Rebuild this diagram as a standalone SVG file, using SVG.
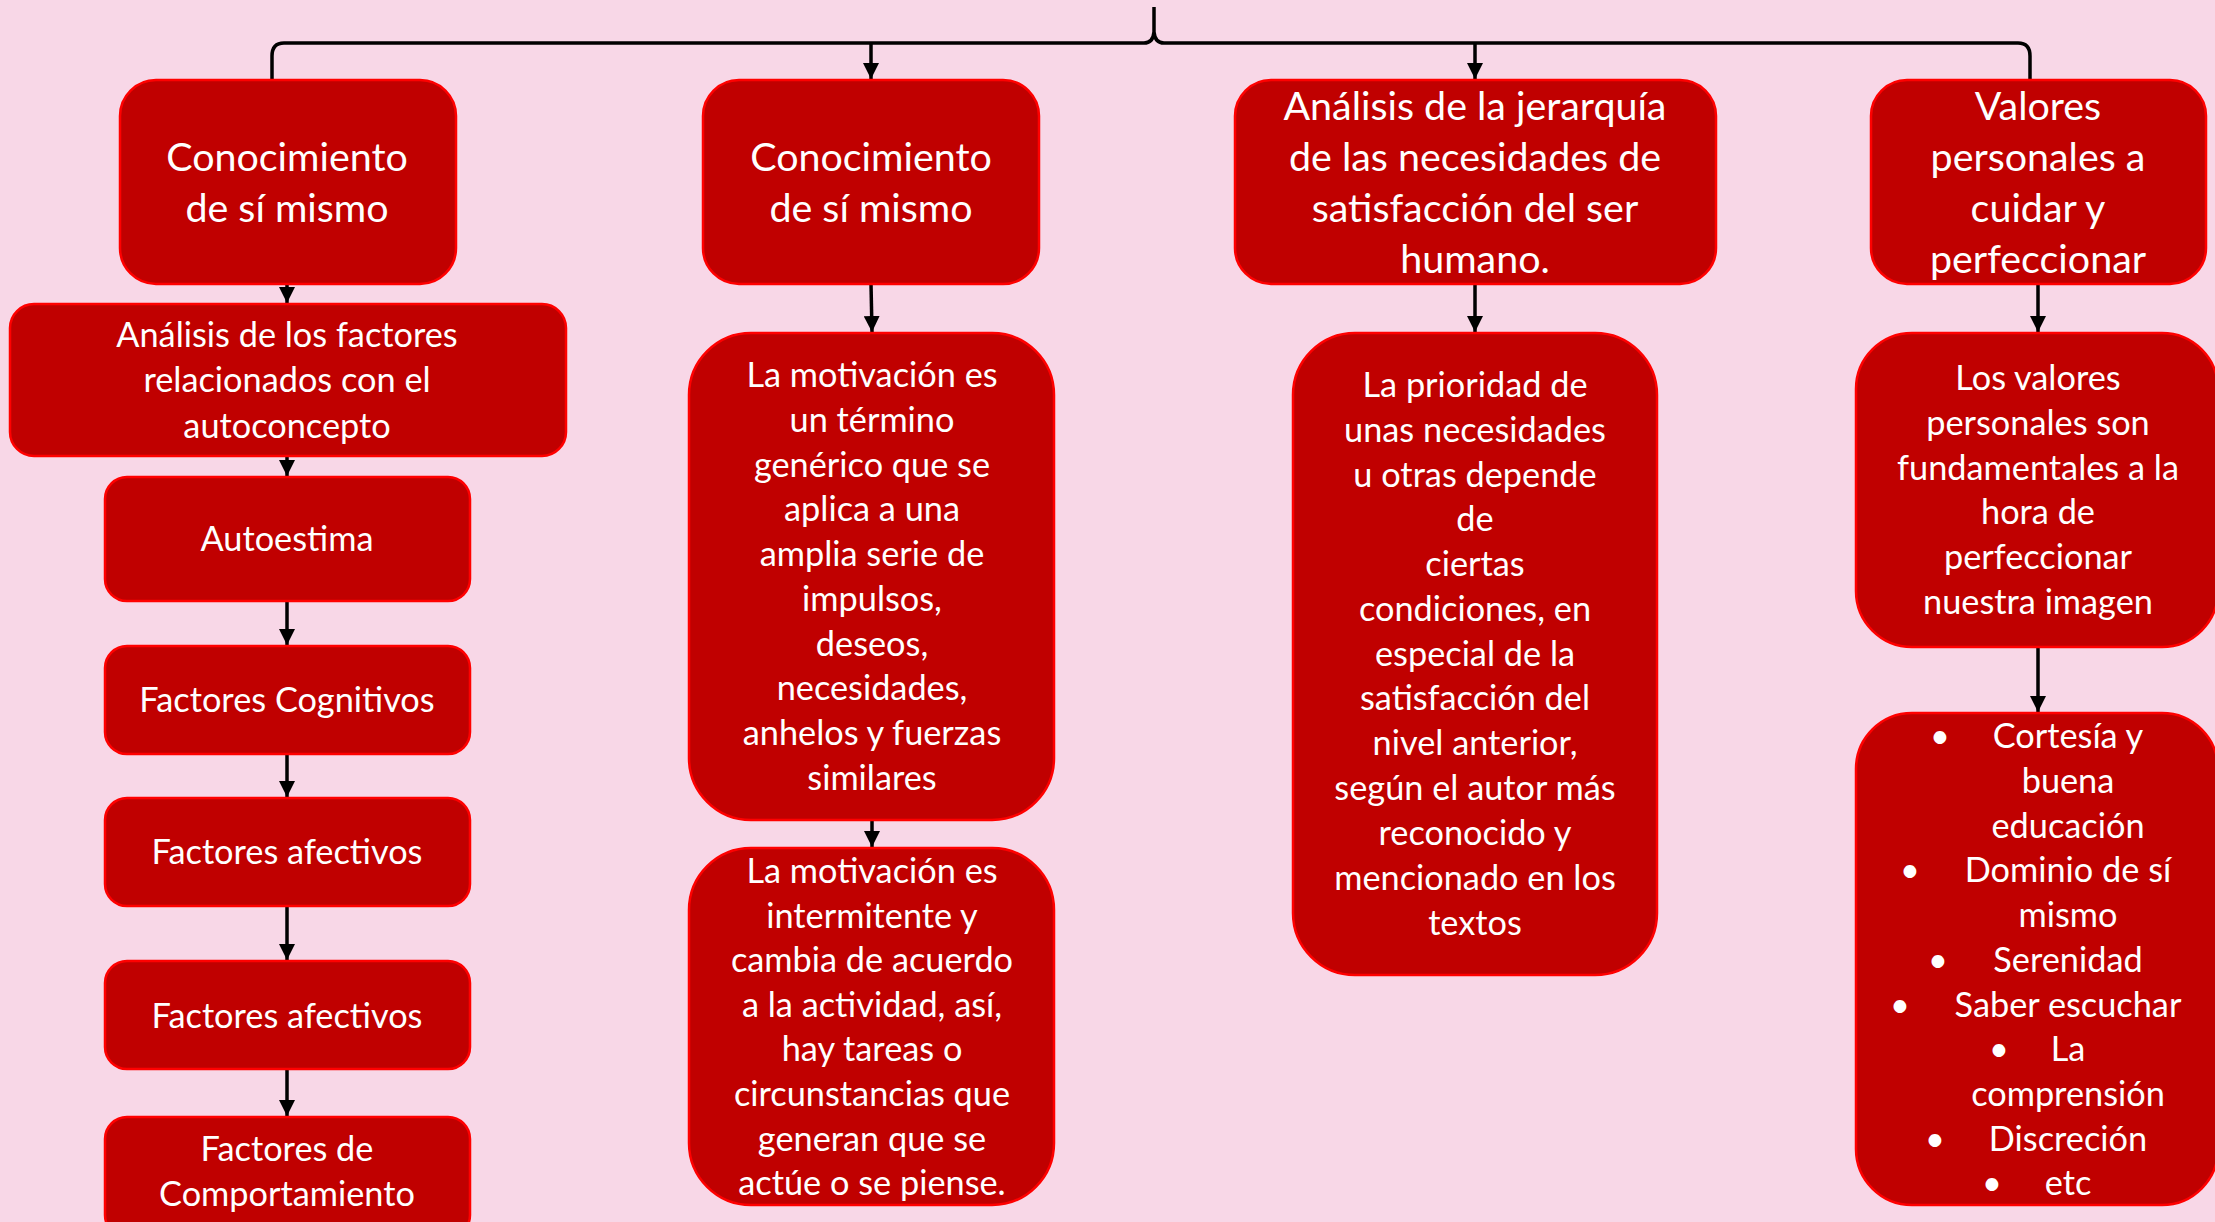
<svg xmlns="http://www.w3.org/2000/svg" width="2215" height="1222" viewBox="0 0 2215 1222">
<defs>
<marker id="ah" markerUnits="userSpaceOnUse" markerWidth="16" markerHeight="16" refX="16" refY="8" orient="auto">
<path d="M0,0 L16,8 L0,16 z" fill="#000"/>
</marker>
<style>
.box{fill:#C00000;stroke:#FF0000;stroke-width:2.5}
.t{font-family:Lato,"Open Sans","Liberation Sans",sans-serif;fill:#fff;text-anchor:middle}
.big{font-size:39.4px}
.mid{font-size:34.3px}
.con{fill:none;stroke:#000;stroke-width:3.5}
</style>
</defs>
<rect width="2215" height="1222" fill="#F8D7E7"/>
<g id="connectors">
<path class="con" d="M272 80 L272 56 Q272 43 284 43 L1144 43 Q1153 43 1154 32 L1154 7 M1154 32 Q1155 43 1164 43 L2018 43 Q2030 43 2030 56 L2030 80"/>
<line class="con" x1="871" y1="43" x2="871" y2="79" marker-end="url(#ah)"/>
<line class="con" x1="1475" y1="43" x2="1475" y2="79" marker-end="url(#ah)"/>
<line class="con" x1="287" y1="284" x2="287" y2="303" marker-end="url(#ah)"/>
<line class="con" x1="287" y1="456" x2="287" y2="476" marker-end="url(#ah)"/>
<line class="con" x1="287" y1="601" x2="287" y2="645" marker-end="url(#ah)"/>
<line class="con" x1="287" y1="754" x2="287" y2="797" marker-end="url(#ah)"/>
<line class="con" x1="287" y1="906" x2="287" y2="960" marker-end="url(#ah)"/>
<line class="con" x1="287" y1="1069" x2="287" y2="1116" marker-end="url(#ah)"/>
<line class="con" x1="871" y1="284" x2="872" y2="332" marker-end="url(#ah)"/>
<line class="con" x1="872" y1="820" x2="872" y2="847" marker-end="url(#ah)"/>
<line class="con" x1="1475" y1="284" x2="1475" y2="332" marker-end="url(#ah)"/>
<line class="con" x1="2038" y1="284" x2="2038" y2="332" marker-end="url(#ah)"/>
<line class="con" x1="2038" y1="648" x2="2038" y2="712" marker-end="url(#ah)"/>
</g>
<g id="n1">
<rect class="box" x="120" y="80" width="336" height="204" rx="36"/>
<text class="t big" x="287" y="171">Conocimiento</text>
<text class="t big" x="287" y="222">de sí mismo</text>
</g>
<g id="n2">
<rect class="box" x="703" y="80" width="336" height="204" rx="36"/>
<text class="t big" x="871" y="171">Conocimiento</text>
<text class="t big" x="871" y="222">de sí mismo</text>
</g>
<g id="n3">
<rect class="box" x="1235" y="80" width="481" height="204" rx="36"/>
<text class="t big" x="1475" y="120">Análisis de la jerarquía</text>
<text class="t big" x="1475" y="171">de las necesidades de</text>
<text class="t big" x="1475" y="222">satisfacción del ser</text>
<text class="t big" x="1475" y="273">humano.</text>
</g>
<g id="n4">
<rect class="box" x="1871" y="80" width="335" height="204" rx="36"/>
<text class="t big" x="2038" y="120">Valores</text>
<text class="t big" x="2038" y="171">personales a</text>
<text class="t big" x="2038" y="222">cuidar y</text>
<text class="t big" x="2038" y="273">perfeccionar</text>
</g>
<g id="a1">
<rect class="box" x="10" y="304" width="556" height="152" rx="24"/>
<text class="t mid" x="287" y="347">Análisis de los factores</text>
<text class="t mid" x="287" y="392">relacionados con el</text>
<text class="t mid" x="287" y="438">autoconcepto</text>
</g>
<g id="a2">
<rect class="box" x="105" y="477" width="365" height="124" rx="22"/>
<text class="t mid" x="287" y="551">Autoestima</text>
</g>
<g id="a3">
<rect class="box" x="105" y="646" width="365" height="108" rx="22"/>
<text class="t mid" x="287" y="712">Factores Cognitivos</text>
</g>
<g id="a4">
<rect class="box" x="105" y="798" width="365" height="108" rx="22"/>
<text class="t mid" x="287" y="864">Factores afectivos</text>
</g>
<g id="a5">
<rect class="box" x="105" y="961" width="365" height="108" rx="22"/>
<text class="t mid" x="287" y="1028">Factores afectivos</text>
</g>
<g id="a6">
<rect class="box" x="105" y="1117" width="365" height="120" rx="22"/>
<text class="t mid" x="287" y="1161">Factores de</text>
<text class="t mid" x="287" y="1206">Comportamiento</text>
</g>
<g id="m1">
<rect class="box" x="689" y="333" width="365" height="487" rx="62"/>
<text class="t mid" x="872" y="387">La motivación es</text>
<text class="t mid" x="872" y="432">un término</text>
<text class="t mid" x="872" y="477">genérico que se</text>
<text class="t mid" x="872" y="521">aplica a una</text>
<text class="t mid" x="872" y="566">amplia serie de</text>
<text class="t mid" x="872" y="611">impulsos,</text>
<text class="t mid" x="872" y="656">deseos,</text>
<text class="t mid" x="872" y="700">necesidades,</text>
<text class="t mid" x="872" y="745">anhelos y fuerzas</text>
<text class="t mid" x="872" y="790">similares</text>
</g>
<g id="m2">
<rect class="box" x="689" y="848" width="365" height="357" rx="62"/>
<text class="t mid" x="872" y="883">La motivación es</text>
<text class="t mid" x="872" y="928">intermitente y</text>
<text class="t mid" x="872" y="972">cambia de acuerdo</text>
<text class="t mid" x="872" y="1017">a la actividad, así,</text>
<text class="t mid" x="872" y="1061">hay tareas o</text>
<text class="t mid" x="872" y="1106">circunstancias que</text>
<text class="t mid" x="872" y="1151">generan que se</text>
<text class="t mid" x="872" y="1195">actúe o se piense.</text>
</g>
<g id="p1">
<rect class="box" x="1293" y="333" width="364" height="642" rx="62"/>
<text class="t mid" x="1475" y="397">La prioridad de</text>
<text class="t mid" x="1475" y="442">unas necesidades</text>
<text class="t mid" x="1475" y="487">u otras depende</text>
<text class="t mid" x="1475" y="531">de</text>
<text class="t mid" x="1475" y="576">ciertas</text>
<text class="t mid" x="1475" y="621">condiciones, en</text>
<text class="t mid" x="1475" y="666">especial de la</text>
<text class="t mid" x="1475" y="710">satisfacción del</text>
<text class="t mid" x="1475" y="755">nivel anterior,</text>
<text class="t mid" x="1475" y="800">según el autor más</text>
<text class="t mid" x="1475" y="845">reconocido y</text>
<text class="t mid" x="1475" y="890">mencionado en los</text>
<text class="t mid" x="1475" y="935">textos</text>
</g>
<g id="v1">
<rect class="box" x="1856" y="333" width="362" height="314" rx="56"/>
<text class="t mid" x="2038" y="390">Los valores</text>
<text class="t mid" x="2038" y="435">personales son</text>
<text class="t mid" x="2038" y="480">fundamentales a la</text>
<text class="t mid" x="2038" y="524">hora de</text>
<text class="t mid" x="2038" y="569">perfeccionar</text>
<text class="t mid" x="2038" y="614">nuestra imagen</text>
</g>
<g id="v2">
<rect class="box" x="1856" y="713" width="362" height="492" rx="56"/>
<text class="t mid" x="1940" y="748">•</text>
<text class="t mid" x="2068" y="748">Cortesía y</text>
<text class="t mid" x="2068" y="793">buena</text>
<text class="t mid" x="2068" y="838">educación</text>
<text class="t mid" x="1910" y="882">•</text>
<text class="t mid" x="2068" y="882">Dominio de sí</text>
<text class="t mid" x="2068" y="927">mismo</text>
<text class="t mid" x="1938" y="972">•</text>
<text class="t mid" x="2068" y="972">Serenidad</text>
<text class="t mid" x="1900" y="1017">•</text>
<text class="t mid" x="2068" y="1017">Saber escuchar</text>
<text class="t mid" x="1999" y="1061">•</text>
<text class="t mid" x="2068" y="1061">La</text>
<text class="t mid" x="2068" y="1106">comprensión</text>
<text class="t mid" x="1935" y="1151">•</text>
<text class="t mid" x="2068" y="1151">Discreción</text>
<text class="t mid" x="1992" y="1195">•</text>
<text class="t mid" x="2068" y="1195">etc</text>
</g>
</svg>
